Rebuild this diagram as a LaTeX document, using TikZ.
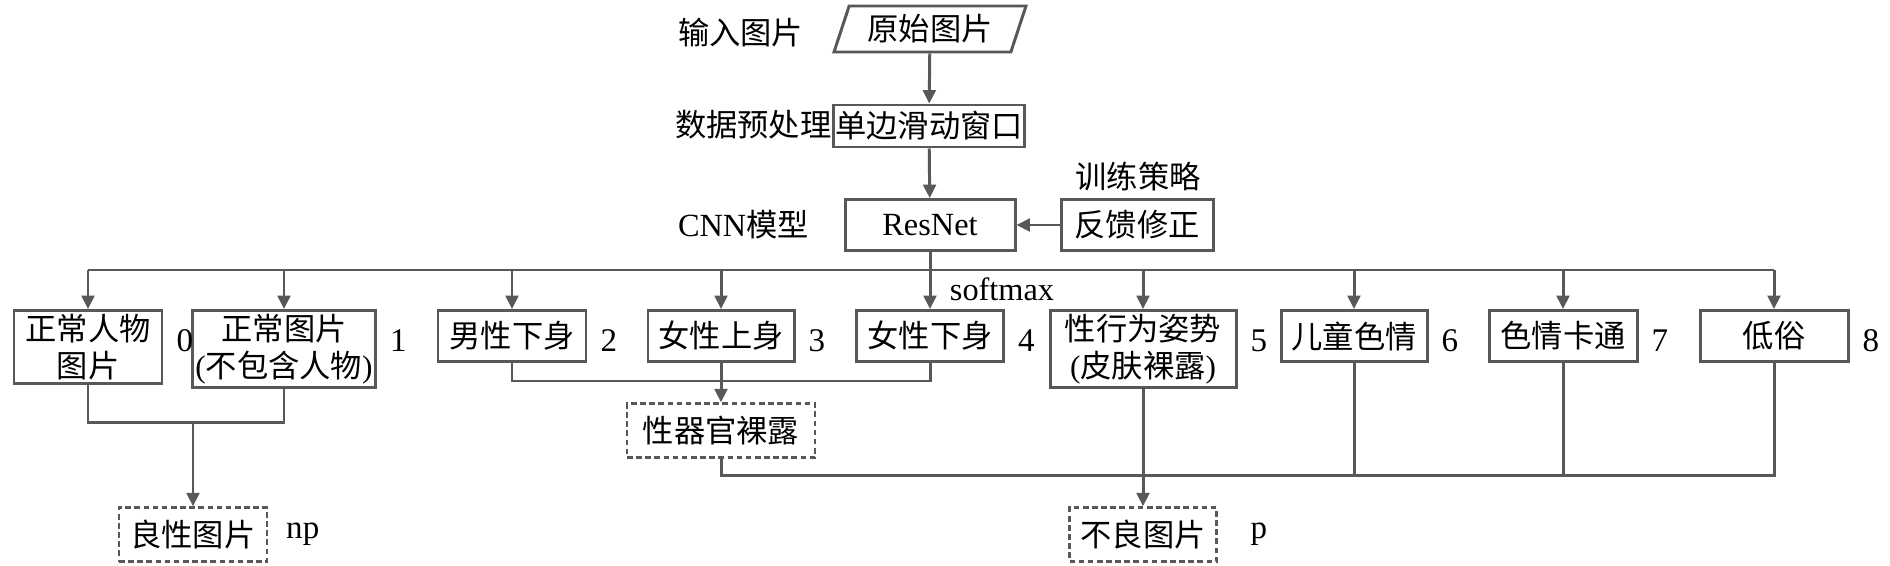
\documentclass[tikz,border=0pt]{standalone}
\usepackage{fontspec}
\setmainfont{Liberation Serif}
\newfontfamily\cjk{Noto Sans CJK SC}
\usetikzlibrary{arrows.meta,shapes.geometric}
\definecolor{linegray}{RGB}{88,88,88}

\begin{document}
\begin{tikzpicture}[
		line width=0.85pt,
		every node/.style={font=\cjk\fontsize{8.9}{10.5}\selectfont, inner sep=1pt},
		box/.style={draw=linegray, align=center, inner xsep=0.5pt, minimum height=0.51cm},
		bigbox/.style={box, minimum height=0.72cm},
		outbox/.style={box, dash pattern=on 1.6pt off 1pt, line width=0.7pt, minimum height=0.54cm},
		num/.style={anchor=west, xshift=0.08cm, font=\rmfamily\fontsize{9.4}{10}\selectfont},
		wire/.style={draw=linegray},
		arr/.style={wire, -{Triangle[length=3.8pt,width=3.6pt]}},
	]
			\useasboundingbox (0,0) rectangle (18.9,5.65);
			% top of the flow
			\node[draw=linegray, trapezium, trapezium left angle=71, trapezium right angle=109,
				trapezium stretches=true, minimum width=1.92cm, minimum height=0.46cm] (src) at (9.30,5.36) {原始图片};
			\node[box, minimum width=1.89cm, minimum height=0.42cm] (win) at (9.29,4.39) {单边滑动窗口};
			\node[box, minimum width=1.70cm] (resnet) at (9.30,3.40) {\rmfamily\fontsize{9.2}{10}\selectfont ResNet};
			\node[box, minimum width=1.52cm] (fb) at (11.37,3.40) {反馈修正};
			\node (strat) at (11.38,3.88) {训练策略};
			\node[anchor=west] (lin) at (6.73,5.32) {输入图片};
			\node[anchor=west] (lpre) at (6.70,4.40) {数据预处理};
			\node[anchor=west] (lcnn) at (6.73,3.40) {{\rmfamily\fontsize{9.2}{10}\selectfont CNN}模型};
			\node (soft) at (10.02,2.76) {\rmfamily\fontsize{9.2}{10}\selectfont softmax};
			\coordinate (bus) at (0,2.95);
			\coordinate (numrow) at (0,2.24);
			% classes
			\node[bigbox, anchor=north, minimum width=1.48cm] (c0) at (0.88,2.56) {正常人物\\图片};
			\node[bigbox, anchor=north, minimum width=1.83cm] (c1) at (2.84,2.56) {正常图片\\{\rmfamily(}不包含人物{\rmfamily)}};
			\node[box, anchor=north, minimum width=1.48cm] (c2) at (5.12,2.56) {男性下身};
			\node[box, anchor=north, minimum width=1.46cm] (c3) at (7.21,2.56) {女性上身};
			\node[box, anchor=north, minimum width=1.47cm] (c4) at (9.30,2.56) {女性下身};
			\node[bigbox, anchor=north, minimum width=1.86cm] (c5) at (11.43,2.56) {性行为姿势\\{\rmfamily(}皮肤裸露{\rmfamily)}};
			\node[box, anchor=north, minimum width=1.46cm] (c6) at (13.54,2.56) {儿童色情};
			\node[box, anchor=north, minimum width=1.48cm] (c7) at (15.63,2.56) {色情卡通};
			\node[box, anchor=north, minimum width=1.48cm] (c8) at (17.74,2.56) {低俗};
			\foreach \n in {0,...,8}
				\node[num] (n\n) at (c\n.east |- numrow) {\n};
			% results
			\node[outbox, minimum width=1.88cm] (organ) at (7.21,1.345) {性器官裸露};
			\node[outbox, minimum width=1.48cm] (good) at (1.93,0.305) {良性图片};
			\node[outbox, minimum width=1.47cm] (bad) at (11.43,0.305) {不良图片};
			\node[num, xshift=0.05cm] (np) at (good.east) {np};
			\node[num, xshift=0.2cm] (p) at (bad.east) {p};
			\coordinate (j1) at (1.93,1.43);
			\coordinate (j2) at (0,1.84);
			\coordinate (j3) at (0,0.90);
			% connectors
			\draw[arr] (src) -- (win);
			\draw[arr] (win) -- (resnet);
			\draw[arr] (fb) -- (resnet);
			\draw[wire] (resnet) -- (resnet |- bus);
			\draw[wire] (c0.north |- bus) -- (c8.north |- bus);
			\foreach \n in {0,...,8}
				\draw[arr] (c\n.north |- bus) -- (c\n.north);
			\draw[wire] (c0.south) |- (c1.south |- j1) -- (c1.south);
			\draw[arr] (j1) -- (good);
			\draw[wire] (c2.south) |- (c4.south |- j2) -- (c4.south);
			\draw[arr] (c3) -- (organ);
			\draw[wire] (organ.south) |- (c8.south |- j3) -- (c8.south);
			\draw[wire] (c6.south) -- (c6.south |- j3);
			\draw[wire] (c7.south) -- (c7.south |- j3);
			\draw[arr] (c5) -- (bad);
		\end{tikzpicture}
\end{document}
